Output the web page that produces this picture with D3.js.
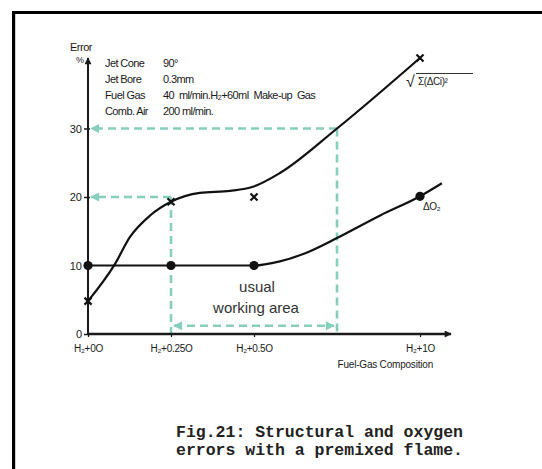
<!DOCTYPE html>
<html><head><meta charset="utf-8">
<script src="https://cdn.jsdelivr.net/npm/d3@7"></script>
<style>
html,body{margin:0;padding:0;background:#fff;}
svg{display:block;}
text{font-family:"Liberation Sans",Arial,sans-serif;fill:#1a1a1a;}
</style></head><body>
<script>
// ---- data ----
const xTickValues = [0, 0.25, 0.5, 1];
const xTickLabels = ["H\u2082+0O", "H\u2082+0.25O", "H\u2082+0.5O", "H\u2082+1O"];
const yTickValues = [0, 10, 20, 30];
const structCurveX = [0, 0.081, 0.127, 0.187, 0.25, 0.337, 0.428, 0.497, 0.578, 0.75, 1.0];
const structCurveY = [4.8, 10.2, 14.2, 17.3, 19.3, 20.6, 20.9, 21.5, 23.5, 30, 40.3];
const structMarkX = [0, 0.25, 0.5, 1.0];
const structMarkY = [4.8, 19.3, 20, 40.3];
const o2CurveX = [0, 0.25, 0.5, 0.578, 0.66, 0.75, 0.88, 1.0, 1.066];
const o2CurveY = [10, 10, 10, 10.6, 11.9, 14, 17.3, 20.1, 22];
const o2MarkX = [0, 0.25, 0.5, 1.0];
const o2MarkY = [10, 10, 10, 20.1];
const infoLabels = ["Jet Cone", "Jet Bore", "Fuel Gas", "Comb. Air"];
const infoValues = ["90\u00b0", "0.3mm", "40  ml/min.H\u2082+60ml  Make-up  Gas", "200 ml/min."];
const captionLines = ["Fig.21: Structural and oxygen", "errors with a premixed flame."];

const W = 542, H = 469;
const svg = d3.select("body").append("svg").attr("width", W).attr("height", H);
const x = d3.scaleLinear().domain([0, 1]).range([88, 420]);
const y = d3.scaleLinear().domain([0, 30]).range([334, 128.5]);
const teal = "#86cfbd";

// frame
svg.append("line").attr("x1", 12).attr("x2", W).attr("y1", 12.5).attr("y2", 12.5).attr("stroke", "#000").attr("stroke-width", 3);
svg.append("line").attr("x1", 13.6).attr("x2", 13.6).attr("y1", 11).attr("y2", H).attr("stroke", "#000").attr("stroke-width", 3.2);

// arrow markers
const defs = svg.append("defs");
function mk(id, color, w, h) {
  defs.append("marker").attr("id", id).attr("viewBox", "0 0 10 10").attr("refX", 9).attr("refY", 5)
    .attr("markerUnits", "userSpaceOnUse").attr("markerWidth", w).attr("markerHeight", h).attr("orient", "auto-start-reverse")
    .append("path").attr("d", "M0,0 L10,5 L0,10 Z").attr("fill", color);
}
mk("arrK", "#1a1a1a", 9, 7);
mk("arrT", teal, 13, 9);

// dashed guide lines
const g = svg.append("g").attr("stroke", teal).attr("stroke-width", 2.6).attr("stroke-dasharray", "8,5").attr("fill", "none");
g.append("line").attr("x1", x(0.75)).attr("y1", y(30)).attr("x2", x(0) + 3).attr("y2", y(30)).attr("marker-end", "url(#arrT)");
g.append("line").attr("x1", x(0.75)).attr("y1", y(30)).attr("x2", x(0.75)).attr("y2", y(0));
g.append("line").attr("x1", x(0.25)).attr("y1", y(20)).attr("x2", x(0) + 3).attr("y2", y(20)).attr("marker-end", "url(#arrT)");
g.append("line").attr("x1", x(0.25)).attr("y1", y(20)).attr("x2", x(0.25)).attr("y2", y(0));
g.append("line").attr("x1", x(0.25) + 3).attr("y1", y(1.2)).attr("x2", x(0.75) - 3).attr("y2", y(1.2))
  .attr("marker-start", "url(#arrT)").attr("marker-end", "url(#arrT)");

// axes
const yAxis = d3.axisLeft(y).tickValues(yTickValues).tickSize(4).tickPadding(2);
const ya = svg.append("g").attr("transform", `translate(${x(0)},0)`).call(yAxis);
ya.select(".domain").remove();
ya.selectAll(".tick line").attr("stroke", "#1a1a1a").attr("x2", -4).attr("x1", 2).attr("stroke-width", 1.5);
ya.selectAll(".tick text").attr("font-size", 11).attr("font-family", "Liberation Sans, Arial, sans-serif").attr("fill", "#1a1a1a");
svg.append("line").attr("x1", x(0)).attr("x2", x(0)).attr("y1", y(0) + 1).attr("y2", 58)
  .attr("stroke", "#1a1a1a").attr("stroke-width", 2).attr("marker-end", "url(#arrK)");

const xAxis = d3.axisBottom(x).tickValues(xTickValues).tickFormat((d, i) => xTickLabels[i]).tickSize(3).tickPadding(8);
const xa = svg.append("g").attr("transform", `translate(0,${y(0)})`).call(xAxis);
xa.select(".domain").remove();
xa.selectAll(".tick line").attr("stroke", "#1a1a1a").attr("stroke-width", 1.2).attr("y1", -1);
xa.selectAll(".tick text").attr("font-size", 10).attr("font-family", "Liberation Sans, Arial, sans-serif").attr("fill", "#1a1a1a").attr("letter-spacing", -0.3);
svg.append("line").attr("x1", x(0)).attr("x2", 451).attr("y1", y(0)).attr("y2", y(0))
  .attr("stroke", "#1a1a1a").attr("stroke-width", 2.4).attr("marker-end", "url(#arrK)");

// axis titles
svg.append("text").attr("x", 70).attr("y", 51).attr("font-size", 11).attr("letter-spacing", -0.5).text("Error");
svg.append("text").attr("x", 76).attr("y", 63).attr("font-size", 9).text("%");
svg.append("text").attr("x", 433).attr("y", 368).attr("text-anchor", "end").attr("font-size", 10).attr("letter-spacing", -0.2).text("Fuel-Gas Composition");

// info block
const infoY = [67, 82.5, 99, 115];
infoLabels.forEach((t, i) => {
  svg.append("text").attr("x", 105).attr("y", infoY[i]).attr("font-size", 11).attr("letter-spacing", -0.6).text(t);
  svg.append("text").attr("x", 163).attr("y", infoY[i]).attr("font-size", 11).attr("letter-spacing", -0.6)
    .attr("xml:space", "preserve").style("white-space", "pre").text(infoValues[i]);
});

// curves
const line = d3.line().x(d => x(d[0])).y(d => y(d[1])).curve(d3.curveMonotoneX);
svg.append("path").datum(structCurveX.map((v, i) => [v, structCurveY[i]])).attr("d", line)
  .attr("fill", "none").attr("stroke", "#111").attr("stroke-width", 2.2);
svg.append("path").datum(o2CurveX.map((v, i) => [v, o2CurveY[i]])).attr("d", line)
  .attr("fill", "none").attr("stroke", "#111").attr("stroke-width", 2.2);

// markers
svg.selectAll(".o2m").data(o2MarkX.map((v, i) => [v, o2MarkY[i]])).enter().append("circle")
  .attr("cx", d => x(d[0])).attr("cy", d => y(d[1])).attr("r", 4.6).attr("fill", "#111");
svg.selectAll(".sm").data(structMarkX.map((v, i) => [v, structMarkY[i]])).enter().append("path")
  .attr("d", d => { const cx = x(d[0]), cy = y(d[1]), s = 3.5; return `M${cx - s},${cy - s}L${cx + s},${cy + s}M${cx - s},${cy + s}L${cx + s},${cy - s}`; })
  .attr("stroke", "#111").attr("stroke-width", 2.2).attr("fill", "none");

// series labels
svg.append("text").attr("x", 406).attr("y", 87).attr("font-size", 16).text("\u221a");
svg.append("text").attr("x", 418).attr("y", 85).attr("font-size", 10).attr("letter-spacing", -0.4).text("\u03a3(\u0394Ci)\u00b2");
svg.append("line").attr("x1", 416).attr("x2", 473).attr("y1", 73.5).attr("y2", 73.5).attr("stroke", "#333").attr("stroke-width", 1);
svg.append("text").attr("x", 423).attr("y", 210).attr("font-size", 10).attr("letter-spacing", -0.4).text("\u0394O\u2082");

// usual working area
svg.append("text").attr("x", 257).attr("y", 292).attr("text-anchor", "middle").attr("font-size", 15).style("fill", "#333").text("usual");
svg.append("text").attr("x", 256).attr("y", 313).attr("text-anchor", "middle").attr("font-size", 15).style("fill", "#333").text("working area");

// caption
captionLines.forEach((t, i) => {
  svg.append("text").attr("x", 176).attr("y", [437, 455][i])
    .style("font-family", "'Liberation Mono','Courier New',monospace").attr("font-size", 16.5).attr("font-weight", "bold")
    .style("fill", "#222").attr("textLength", 287).text(t);
});
</script>
</body></html>
